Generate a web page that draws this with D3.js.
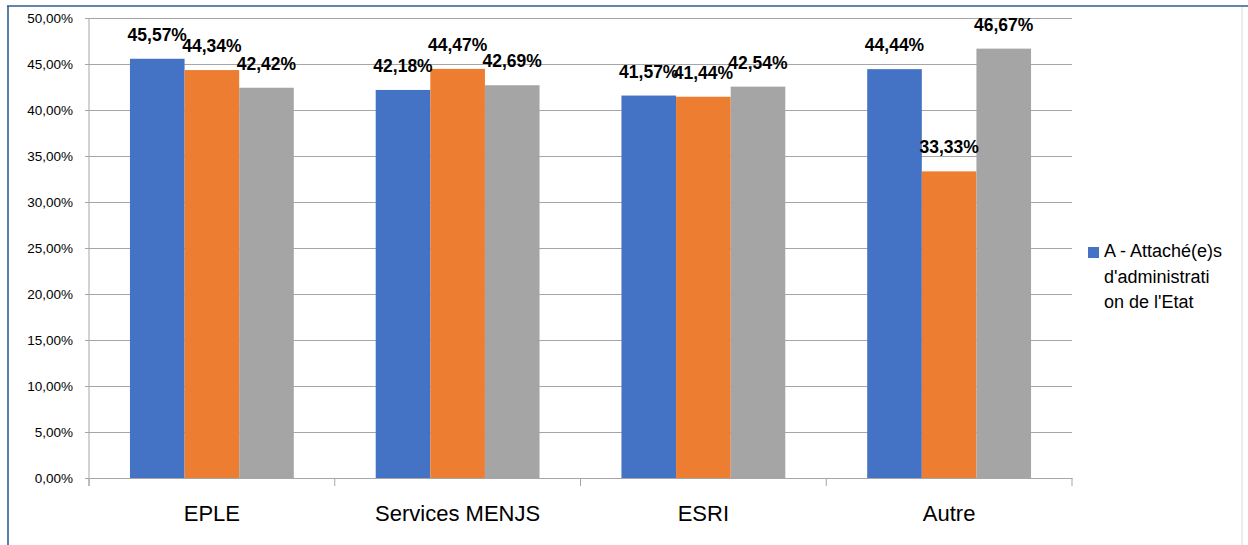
<!DOCTYPE html>
<html>
<head>
<meta charset="utf-8">
<script src="https://cdn.jsdelivr.net/npm/d3@7"></script>
<style>
body { margin: 0; background: #fff; }
#chart svg { display: block; }
text { font-family: "Liberation Sans", Arial, sans-serif; fill: #000; }
</style>
</head>
<body>
<div id="chart"></div>
<script>
// categories and series
var categories = ["EPLE", "Services MENJS", "ESRI", "Autre"];
var seriesA = [45.57, 42.18, 41.57, 44.44];
var seriesB = [44.34, 44.47, 41.44, 33.33];
var seriesC = [42.42, 42.69, 42.54, 46.67];
var seriesColors = ["#4472c4", "#ed7d31", "#a5a5a5"];
var yTicks = [0, 5, 10, 15, 20, 25, 30, 35, 40, 45, 50];
var legendLines = ["A - Attaché(e)s", "d'administrati", "on de l'Etat"];

var width = 1248, height = 545;
var margin = {top: 18, left: 89, right: 176, bottom: 67};

var svg = d3.select("#chart").append("svg")
    .attr("width", width)
    .attr("height", height);

// frame of the chart object
svg.append("line").attr("x1", 8).attr("x2", 8).attr("y1", 6).attr("y2", height)
    .attr("stroke", "#5a7ea8").attr("stroke-width", 2);
svg.append("line").attr("x1", 7).attr("x2", width).attr("y1", 6).attr("y2", 6)
    .attr("stroke", "#2f5b92").attr("stroke-width", 1.5);
svg.append("line").attr("x1", 1242).attr("x2", 1242).attr("y1", 7).attr("y2", height)
    .attr("stroke", "#d9d9d9").attr("stroke-width", 1);

var x0 = d3.scaleBand()
    .domain(categories)
    .range([margin.left, width - margin.right])
    .paddingInner(0).paddingOuter(0);

var x1 = d3.scaleBand()
    .domain([0, 1, 2])
    .range([0, x0.bandwidth()])
    .paddingInner(0)
    .paddingOuter(0.75);

var y = d3.scaleLinear()
    .domain([0, 50])
    .range([height - margin.bottom, margin.top]);

// grid
svg.append("g")
    .attr("transform", "translate(" + margin.left + ",0)")
    .call(d3.axisLeft(y).tickValues(yTicks).tickSize(4)
        .tickFormat(function (d) { return d.toFixed(2).replace(".", ",") + "%"; }))
    .call(g => g.select(".domain").remove())
    .call(g => g.selectAll(".tick line").attr("stroke", "#a6a6a6"))
    .call(g => g.selectAll(".tick text").attr("x", -16).style("font-size", "13.5px")
        .style("font-family", "Liberation Sans, Arial, sans-serif").attr("fill", "#000"));

svg.append("g")
    .attr("transform", "translate(" + margin.left + ",0)")
    .call(d3.axisRight(y).tickValues(yTicks.slice(1)).tickSize(x0.range()[1] - margin.left).tickFormat(""))
    .call(g => g.select(".domain").remove())
    .call(g => g.selectAll(".tick line").attr("stroke", "#a6a6a6"));

var table = categories.map(function (c, i) {
    return {cat: c, vals: [seriesA[i], seriesB[i], seriesC[i]]};
});

var groups = svg.selectAll(".grp")
    .data(table)
    .enter().append("g")
    .attr("class", "grp")
    .attr("transform", function (d) { return "translate(" + x0(d.cat) + ",0)"; });

groups.selectAll("rect")
    .data(function (d) { return d.vals; })
    .enter().append("rect")
    .attr("x", function (d, i) { return x1(i); })
    .attr("y", function (d) { return y(d); })
    .attr("width", x1.bandwidth())
    .attr("height", function (d) { return y(0) - y(d); })
    .attr("fill", function (d, i) { return seriesColors[i]; });

groups.selectAll(".lbl")
    .data(function (d) { return d.vals; })
    .enter().append("text")
    .attr("class", "lbl")
    .attr("x", function (d, i) { return x1(i) + x1.bandwidth() / 2; })
    .attr("y", function (d) { return y(d) - 18; })
    .attr("text-anchor", "middle")
    .style("font-size", "17.5px")
    .style("font-weight", "bold")
    .text(function (d) { return d.toFixed(2).replace(".", ",") + "%"; });

// x axis
svg.append("g")
    .attr("transform", "translate(0," + y(0) + ")")
    .call(d3.axisBottom(x0).tickSize(0).tickFormat(""))
    .call(g => g.select(".domain").attr("stroke", "#a6a6a6"));

svg.append("g").selectAll("line")
    .data(categories.concat(["end"]))
    .enter().append("line")
    .attr("x1", function (d, i) { return i < categories.length ? x0(d) : x0.range()[1]; })
    .attr("x2", function (d, i) { return i < categories.length ? x0(d) : x0.range()[1]; })
    .attr("y1", y(50)).attr("y2", y(0) + 8)
    .attr("stroke", function (d, i) { return i == 0 ? "#a6a6a6" : "none"; });

svg.append("g").selectAll("line")
    .data(categories.concat(["end"]))
    .enter().append("line")
    .attr("x1", function (d, i) { return i < categories.length ? x0(d) : x0.range()[1]; })
    .attr("x2", function (d, i) { return i < categories.length ? x0(d) : x0.range()[1]; })
    .attr("y1", y(0)).attr("y2", y(0) + 8)
    .attr("stroke", "#a6a6a6");

svg.selectAll(".cat")
    .data(categories)
    .enter().append("text")
    .attr("class", "cat")
    .attr("x", function (d) { return x0(d) + x0.bandwidth() / 2; })
    .attr("y", y(0) + 43)
    .attr("text-anchor", "middle")
    .style("font-size", "22px")
    .text(function (d) { return d; });

// legend (first series only is visible)
var legend = svg.append("g").attr("transform", "translate(1088,0)");
legend.append("rect")
    .attr("x", 0).attr("y", 247)
    .attr("width", 11).attr("height", 11)
    .attr("fill", seriesColors[0]);
legend.selectAll("text")
    .data(legendLines)
    .enter().append("text")
    .attr("x", 16)
    .attr("y", function (d, i) { return 257 + i * 25.5; })
    .style("font-size", "18px")
    .style("fill", "#000")
    .text(function (d) { return d; });
</script>
</body>
</html>
